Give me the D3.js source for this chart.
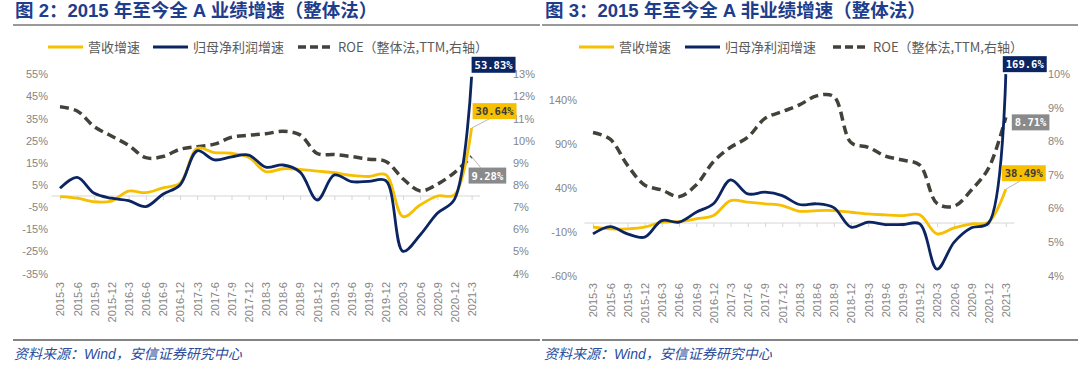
<!DOCTYPE html>
<html>
<head>
<meta charset="utf-8">
<script src="https://cdn.jsdelivr.net/npm/d3@7"></script>
<style>
  body { margin: 0; background: #fff; }
  svg { display: block; }
</style>
</head>
<body>
<svg id="chart" width="1080" height="370"></svg>
<script>
const categories = [
  "2015-3", "2015-6", "2015-9", "2015-12", "2016-3", "2016-6", "2016-9", "2016-12",
  "2017-3", "2017-6", "2017-9", "2017-12", "2018-3", "2018-6", "2018-9", "2018-12",
  "2019-3", "2019-6", "2019-9", "2019-12", "2020-3", "2020-6", "2020-9", "2020-12", "2021-3"
];

// 图2：全A（%）
const revenueAll = [-0.3, -1.0, -2.6, -2.3, 2.2, 1.5, 3.7, 5.8, 21.5, 19.6, 19.3, 17.5, 11.0, 12.3, 12.0,
  11.2, 10.5, 9.3, 8.8, 9.6, -9.3, -4.1, 0.0, 0.5, 30.64];
const profitAll = [3.5, 8.4, 1.2, -1.0, -2.1, -4.8, 0.8, 5.0, 20.4, 16.3, 17.7, 18.5, 13.0, 14.0, 10.8,
  -1.8, 9.5, 6.5, 6.6, 6.9, -25.0, -17.6, -7.8, -1.5, 53.83];
const roeAll = [11.53, 11.34, 10.63, 10.21, 9.79, 9.23, 9.28, 9.61, 9.73, 9.84, 10.15, 10.24, 10.31, 10.42, 10.26,
  9.42, 9.37, 9.28, 9.16, 9.06, 8.28, 7.73, 8.03, 8.56, 9.28];

// 图3：全A非（%）
const revenueExFin = [-4.7, -6.6, -6.6, -4.7, 1.0, 1.7, 4.8, 8.5, 25.6, 23.7, 21.9, 19.9, 13.4, 14.2, 14.2,
  12.3, 10.4, 9.3, 8.5, 9.3, -12.3, -5.5, -1.0, 1.0, 38.49];
const profitExFin = [-12.3, -4.0, -12.3, -16.1, 2.8, 1.0, 12.3, 21.9, 49.2, 33.2, 35.1, 31.3, 21.1, 21.9, 17.5,
  -4.7, 1.0, -1.7, -1.7, -1.0, -52.5, -21.8, -5.5, 0.0, 169.6];
const roeExFin = [8.26, 8.06, 7.29, 6.70, 6.55, 6.35, 6.70, 7.39, 7.82, 8.12, 8.68, 8.88, 9.08, 9.35, 9.33,
  7.96, 7.82, 7.56, 7.44, 7.29, 6.15, 6.07, 6.55, 7.2, 8.71];

const leftTicksAll = [-35, -25, -15, -5, 5, 15, 25, 35, 45, 55];
const rightTicksAll = [4, 5, 6, 7, 8, 9, 10, 11, 12, 13];
const leftTicksExFin = [-60, -10, 40, 90, 140];
const rightTicksExFin = [4, 5, 6, 7, 8, 9, 10];

const legendNames = ["营收增速", "归母净利润增速", "ROE（整体法,TTM,右轴）"];

const YELLOW = "#f6bf00";
const NAVY = "#0b2462";
const OLIVE = "#42423a";
const BOX_GRAY = "#8a8a8a";
const TICK_TEXT = "#858585";
const TITLE_BLUE = "#1e3d8c";

const svg = d3.select("#chart");

function drawPanel(p) {
  const g = svg.append("g");

  // title + rules
  g.append("text")
    .attr("x", p.titleX).attr("y", 17)
    .style("font-family", "'Liberation Sans', 'Noto Sans CJK SC', sans-serif")
    .style("font-weight", "bold")
    .style("font-size", "18.5px")
    .style("fill", TITLE_BLUE)
    .text(p.title);
  g.append("line")
    .attr("x1", p.ruleX[0]).attr("x2", p.ruleX[1]).attr("y1", 25).attr("y2", 25)
    .style("stroke", "#9a9a9a").style("stroke-width", 2);
  g.append("line")
    .attr("x1", p.ruleX[0]).attr("x2", p.ruleX[1]).attr("y1", 340).attr("y2", 340)
    .style("stroke", "#5a5a5a").style("stroke-width", 1.5);
  g.append("text")
    .attr("x", p.titleX - 1).attr("y", 359)
    .style("font-family", "'Liberation Sans', 'Noto Sans CJK SC', sans-serif")
    .style("font-style", "italic")
    .style("font-size", "14px")
    .style("fill", "#2c4c9c")
    .text("资料来源：Wind，安信证券研究中心");

  // legend
  const legendStyles = [
    { color: YELLOW, dash: null, width: 3 },
    { color: NAVY, dash: null, width: 3 },
    { color: OLIVE, dash: "8,4", width: 3.5 }
  ];
  legendNames.forEach((name, i) => {
    const lx = p.legendX[i];
    g.append("line")
      .attr("x1", lx).attr("x2", lx + 35).attr("y1", 47).attr("y2", 47)
      .style("stroke", legendStyles[i].color)
      .style("stroke-width", legendStyles[i].width)
      .style("stroke-dasharray", legendStyles[i].dash);
    g.append("text")
      .attr("x", lx + 40).attr("y", 51.5)
      .style("font-family", "'Noto Sans CJK SC', sans-serif")
      .style("font-size", "13px")
      .style("fill", "#5a5a5a")
      .text(name);
  });

  const x = d3.scalePoint()
    .domain(categories)
    .range([p.x0, p.x0 + p.step * (categories.length - 1)]);
  const yL = d3.scaleLinear().domain(p.leftDomain).range([p.yBottom, p.yTopL]);
  const yR = d3.scaleLinear().domain(p.rightDomain).range([p.yBottom, p.yTopR]);

  // y axes (labels only)
  const leftAxis = g.append("g")
    .attr("transform", `translate(${p.leftAxisX},0)`)
    .call(d3.axisLeft(yL).tickValues(p.leftTicks).tickSize(0).tickPadding(0).tickFormat(d => d + "%"));
  const rightAxis = g.append("g")
    .attr("transform", `translate(${p.rightAxisX},0)`)
    .call(d3.axisRight(yR).tickValues(p.rightTicks).tickSize(0).tickPadding(0).tickFormat(d => d + "%"));
  [leftAxis, rightAxis].forEach(a => {
    a.select(".domain").remove();
    a.selectAll("text")
      .style("font-family", "'Liberation Sans', Arial, sans-serif")
      .style("font-size", "11px")
      .style("fill", TICK_TEXT);
  });

  // zero line with category ticks
  const zeroY = yL(0);
  g.append("line")
    .attr("x1", x(categories[0]) - p.step / 2)
    .attr("x2", x(categories[categories.length - 1]) + p.step / 2)
    .attr("y1", zeroY).attr("y2", zeroY)
    .style("stroke", "#d6d6d6").style("stroke-width", 1);
  const tickAxis = g.append("g")
    .attr("transform", `translate(0,${zeroY})`)
    .call(d3.axisBottom(x).tickSize(4).tickSizeOuter(0).tickFormat(""));
  tickAxis.select(".domain").remove();
  tickAxis.selectAll("line").style("stroke", "#d6d6d6");

  // category labels
  const labelAxis = g.append("g")
    .attr("transform", `translate(0,${p.labelY})`)
    .call(d3.axisBottom(x).tickSize(0).tickPadding(0));
  labelAxis.select(".domain").remove();
  labelAxis.selectAll("text")
    .attr("transform", "rotate(-90)")
    .attr("x", 0).attr("y", 0).attr("dy", "0.35em")
    .attr("text-anchor", "end")
    .style("font-family", "'Liberation Sans', Arial, sans-serif")
    .style("font-size", "11px")
    .style("fill", TICK_TEXT);

  // lines
  const lineL = d3.line()
    .x((d, i) => x(categories[i]))
    .y(d => yL(d))
    .curve(d3.curveCatmullRom.alpha(0.5));
  const lineR = d3.line()
    .x((d, i) => x(categories[i]))
    .y(d => yR(d))
    .curve(d3.curveCatmullRom.alpha(0.5));

  g.append("path").datum(p.roe).attr("d", lineR)
    .style("fill", "none").style("stroke", OLIVE)
    .style("stroke-width", 3.5).style("stroke-dasharray", "9,5");
  g.append("path").datum(p.revenue).attr("d", lineL)
    .style("fill", "none").style("stroke", YELLOW).style("stroke-width", 2.8);
  g.append("path").datum(p.profit).attr("d", lineL)
    .style("fill", "none").style("stroke", NAVY).style("stroke-width", 2.8);

  // end-point labels
  const last = categories.length - 1;
  const lx = x(categories[last]);
  const boxes = [
    { v: p.profit[last], y: yL(p.profit[last]), fill: NAVY, color: "#ffffff", o: p.boxOffsets[0] },
    { v: p.revenue[last], y: yL(p.revenue[last]), fill: YELLOW, color: "#3a3a3a", o: p.boxOffsets[1] },
    { v: p.roe[last], y: yR(p.roe[last]), fill: BOX_GRAY, color: "#ffffff", o: p.boxOffsets[2] }
  ];
  boxes.forEach(b => {
    const bx = lx + b.o.dx, by = b.y + b.o.dy;
    if (b.o.leader) {
      g.append("line")
        .attr("x1", lx).attr("y1", b.y)
        .attr("x2", bx + b.o.leader[0]).attr("y2", by + b.o.leader[1])
        .style("stroke", "#b8b8b8").style("stroke-width", 1);
    }
    const rect = g.append("rect").attr("x", bx).attr("y", by).attr("height", 16).style("fill", b.fill);
    const t = g.append("text")
      .attr("x", bx + 3).attr("y", by + 12)
      .style("font-family", "'DejaVu Sans Mono', monospace")
      .style("font-weight", "bold")
      .style("font-size", "10.5px")
      .style("fill", b.color)
      .text(d3.format(".2f")(b.v).replace(/0$/, p.trimZero ? "" : "0") + "%");
    rect.attr("width", t.node().getComputedTextLength() + 6);
  });
}

drawPanel({
  title: "图 2：2015 年至今全 A 业绩增速（整体法）",
  titleX: 15, ruleX: [13, 540],
  legendX: [48, 153, 298],
  x0: 60, step: 17.15,
  leftDomain: [-35, 55], rightDomain: [4, 13],
  yBottom: 273.5, yTopL: 74.2, yTopR: 74.2,
  leftTicks: leftTicksAll, rightTicks: rightTicksAll,
  leftAxisX: 48, rightAxisX: 513, labelY: 282,
  revenue: revenueAll, profit: profitAll, roe: roeAll,
  trimZero: false,
  boxOffsets: [
    { dx: 0, dy: -20 },
    { dx: 1, dy: -25, leader: [18, 15] },
    { dx: -3, dy: 11, leader: [12, 0] }
  ]
});

drawPanel({
  title: "图 3：2015 年至今全 A 非业绩增速（整体法）",
  titleX: 545, ruleX: [542, 1078],
  legendX: [579, 685, 833],
  x0: 593, step: 17.2,
  leftDomain: [-60, 170], rightDomain: [4, 10],
  yBottom: 275.7, yTopL: 73.8, yTopR: 74,
  leftTicks: leftTicksExFin, rightTicks: rightTicksExFin,
  leftAxisX: 577, rightAxisX: 1048, labelY: 283,
  revenue: revenueExFin, profit: profitExFin, roe: roeExFin,
  trimZero: true,
  boxOffsets: [
    { dx: -3, dy: -18 },
    { dx: -4, dy: -24, leader: [18, 16] },
    { dx: 6, dy: -3 }
  ]
});
</script>
</body>
</html>
